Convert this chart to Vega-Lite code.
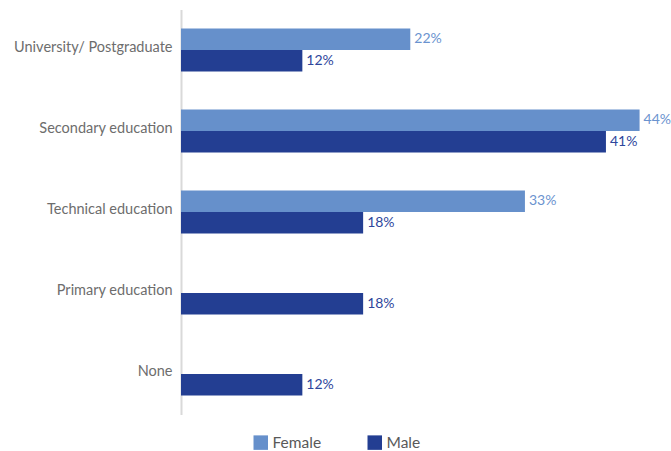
{
  "$schema": "https://vega.github.io/schema/vega-lite/v6.json",
  "autosize": {"type": "none"},
  "padding": {"left": 181, "top": 9.5, "right": 5, "bottom": 36.5},
  "width": 485,
  "height": 405,
  "background": "white",
  "config": {"view": {"stroke": null}, "font": "Lato"},
  "data": {
    "values": [
      {"Education": "University/ Postgraduate", "Gender": "Female", "Share": 0.2222},
      {"Education": "University/ Postgraduate", "Gender": "Male", "Share": 0.1176},
      {"Education": "Secondary education", "Gender": "Female", "Share": 0.4444},
      {"Education": "Secondary education", "Gender": "Male", "Share": 0.4118},
      {"Education": "Technical education", "Gender": "Female", "Share": 0.3333},
      {"Education": "Technical education", "Gender": "Male", "Share": 0.1765},
      {"Education": "Primary education", "Gender": "Male", "Share": 0.1765},
      {"Education": "None", "Gender": "Male", "Share": 0.1176}
    ]
  },
  "encoding": {
    "y": {
      "field": "Education",
      "type": "nominal",
      "sort": ["University/ Postgraduate", "Secondary education", "Technical education", "Primary education", "None"],
      "scale": {"paddingInner": 0.47, "paddingOuter": 0.235},
      "axis": {
        "title": null,
        "ticks": false,
        "domain": true,
        "domainColor": "#d9d9d9",
        "domainWidth": 2,
        "labelFontSize": 14.5,
        "labelColor": "#6d6d6d",
        "labelPadding": 9,
        "labelOffset": -2,
        "labelLimit": 200
      }
    },
    "yOffset": {
      "field": "Gender",
      "type": "nominal",
      "sort": ["Female", "Male"],
      "scale": {"paddingInner": 0, "paddingOuter": 0}
    },
    "x": {
      "field": "Share",
      "type": "quantitative",
      "scale": {"domain": [0, 0.47], "nice": false},
      "axis": null
    }
  },
  "layer": [
    {
      "mark": {"type": "bar"},
      "encoding": {
        "color": {
          "field": "Gender",
          "type": "nominal",
          "scale": {"domain": ["Female", "Male"], "range": ["#6690CB", "#233E92"]},
          "legend": {
            "title": null,
            "orient": "none",
            "legendX": 72,
            "legendY": 425,
            "direction": "horizontal",
            "symbolType": "square",
            "symbolSize": 210,
            "symbolStrokeWidth": 0,
            "labelFontSize": 15.5,
            "labelColor": "#595959",
            "labelOffset": 4,
            "columnPadding": 45
          }
        }
      }
    },
    {
      "mark": {"type": "text", "align": "left", "baseline": "middle", "dx": 4, "fontSize": 14},
      "encoding": {
        "text": {"field": "Share", "type": "quantitative", "format": ".0%"},
        "color": {
          "condition": {"test": "datum.Gender === 'Female'", "value": "#6B93CF"},
          "value": "#2E469C"
        }
      }
    }
  ]
}
